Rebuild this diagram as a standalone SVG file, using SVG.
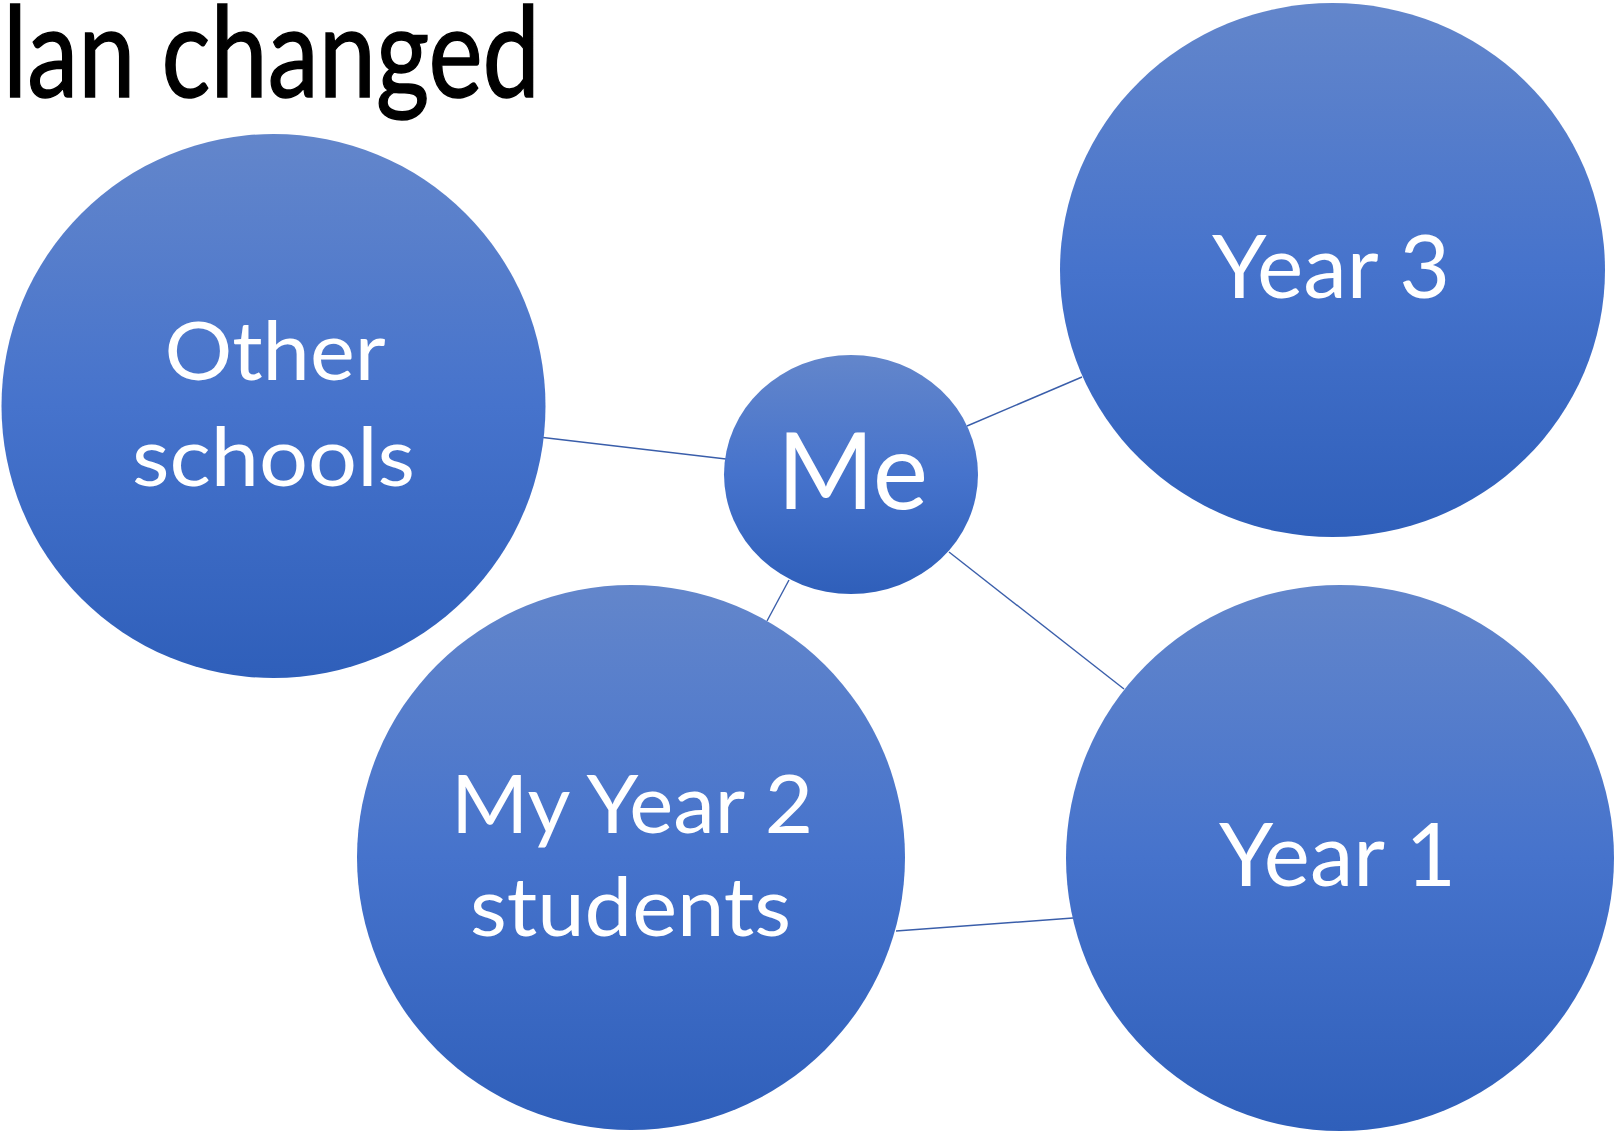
<svg xmlns="http://www.w3.org/2000/svg" width="1616" height="1133" viewBox="0 0 1616 1133">
<defs>
<linearGradient id="blueGrad" x1="0" y1="0" x2="0" y2="1">
<stop offset="0" stop-color="#6386CB"/>
<stop offset="0.5" stop-color="#4673CC"/>
<stop offset="1" stop-color="#2F5FBA"/>
</linearGradient>
<style>
.node{fill:url(#blueGrad);}
.lbl{font-family:Lato,"Noto Sans","Liberation Sans",sans-serif;fill:#FFFFFF;text-anchor:middle;}
.conn{stroke:#3A5EAA;stroke-width:1.4;fill:none;}
.title{font-family:Lato,"Noto Sans","Liberation Sans",sans-serif;fill:#000000;stroke:#000000;stroke-width:1.5;}
</style>
</defs>
<rect width="1616" height="1133" fill="#FFFFFF"/>
<g id="title">
<text class="title" x="3" y="97" font-size="126" textLength="537" lengthAdjust="spacingAndGlyphs">lan changed</text>
</g>
<g id="connectors">
<line class="conn" x1="543" y1="437.5" x2="726" y2="459"/>
<line class="conn" x1="967" y1="426" x2="1082" y2="377"/>
<line class="conn" x1="949" y1="552" x2="1124" y2="689"/>
<line class="conn" x1="789" y1="580" x2="767" y2="621"/>
<line class="conn" x1="896" y1="931" x2="1073" y2="918"/>
</g>
<g id="node-other-schools">
<ellipse class="node" cx="273.5" cy="406" rx="272" ry="272"/>
<text class="lbl" x="275" y="380" font-size="82" textLength="221" lengthAdjust="spacingAndGlyphs">Other</text>
<text class="lbl" x="273.5" y="486" font-size="82" textLength="283" lengthAdjust="spacingAndGlyphs">schools</text>
</g>
<g id="node-year3">
<ellipse class="node" cx="1332.5" cy="270" rx="272.5" ry="267"/>
<text class="lbl" x="1331" y="298" font-size="88" textLength="238" lengthAdjust="spacingAndGlyphs">Year 3</text>
</g>
<g id="node-me">
<ellipse class="node" cx="851" cy="474.5" rx="127" ry="119.5"/>
<text class="lbl" x="852.5" y="509" font-size="107" textLength="151" lengthAdjust="spacingAndGlyphs">Me</text>
</g>
<g id="node-my-year2">
<ellipse class="node" cx="631" cy="857.5" rx="274" ry="272.5"/>
<text class="lbl" x="632" y="833" font-size="82" textLength="362" lengthAdjust="spacingAndGlyphs">My Year 2</text>
<text class="lbl" x="630.5" y="936" font-size="82" textLength="321" lengthAdjust="spacingAndGlyphs">students</text>
</g>
<g id="node-year1">
<ellipse class="node" cx="1340" cy="858" rx="274" ry="273"/>
<text class="lbl" x="1337.5" y="886" font-size="88" textLength="237" lengthAdjust="spacingAndGlyphs">Year 1</text>
</g>
</svg>
